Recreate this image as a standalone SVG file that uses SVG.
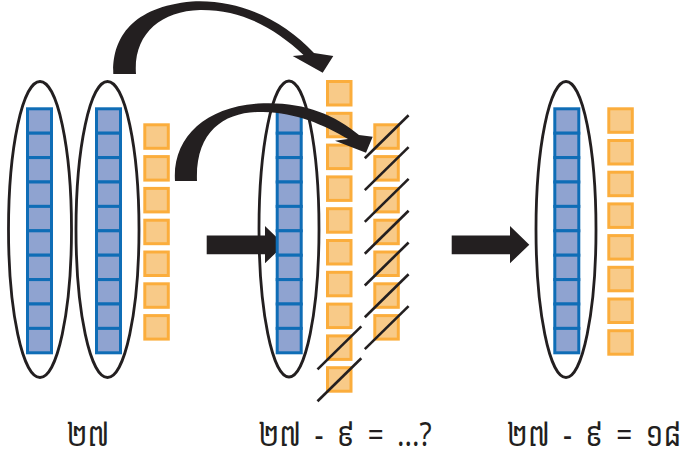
<svg xmlns="http://www.w3.org/2000/svg" width="685" height="450" viewBox="0 0 685 450">
<style>
.bg{fill:#ffffff}
.ell{fill:none;stroke:#231f20;stroke-width:2.8}
.blue{fill:#8fa3d0;stroke:#0f6db6;stroke-width:3}
.org{fill:#f8ca88;stroke:#fbad3c;stroke-width:3}
.slash{stroke:#231f20;stroke-width:2.6;fill:none}
.arr{fill:#231f20;stroke:none}
.lbl{font-family:"Noto Sans Khmer","Khmer OS","Khmer OS System","Hanuman","DejaVu Sans","Liberation Sans",sans-serif;font-size:28px;fill:#231f20;text-anchor:middle;word-spacing:6px}
</style>
<defs>
<g id="tenRod">
<rect class="blue" x="1.5" y="1.5" width="24" height="24.4"/>
<rect class="blue" x="1.5" y="25.9" width="24" height="24.4"/>
<rect class="blue" x="1.5" y="50.3" width="24" height="24.4"/>
<rect class="blue" x="1.5" y="74.7" width="24" height="24.4"/>
<rect class="blue" x="1.5" y="99.1" width="24" height="24.4"/>
<rect class="blue" x="1.5" y="123.5" width="24" height="24.4"/>
<rect class="blue" x="1.5" y="147.9" width="24" height="24.4"/>
<rect class="blue" x="1.5" y="172.3" width="24" height="24.4"/>
<rect class="blue" x="1.5" y="196.7" width="24" height="24.4"/>
<rect class="blue" x="1.5" y="221.1" width="24" height="24.4"/>
</g>
<rect id="one" class="org" x="1.5" y="1.5" width="23.5" height="23.5"/>
<path id="slashOne" class="slash" d="M-8.5,35 L35.3,-8"/>
<polygon id="bigArrow" class="arr" points="0,9.5 58.3,9.5 58.3,0 77.6,18.7 58.3,37.3 58.3,28.3 0,28.3"/>
</defs>
<rect class="bg" x="0" y="0" width="685" height="450"/>

<g id="group-27">
<ellipse class="ell" cx="40" cy="229.5" rx="31.5" ry="148"/>
<ellipse class="ell" cx="107.5" cy="229.5" rx="31.5" ry="148"/>
<use href="#tenRod" x="26" y="107.3"/>
<use href="#tenRod" x="95" y="107.3"/>
<use href="#one" x="143.3" y="123.3"/>
<use href="#one" x="143.3" y="155.1"/>
<use href="#one" x="143.3" y="186.9"/>
<use href="#one" x="143.3" y="218.7"/>
<use href="#one" x="143.3" y="250.5"/>
<use href="#one" x="143.3" y="282.3"/>
<use href="#one" x="143.3" y="314.1"/>
</g>

<g id="group-regroup">
<ellipse class="ell" cx="289" cy="229" rx="30" ry="148"/>
<use href="#bigArrow" x="206.7" y="226"/>
<use href="#tenRod" x="275.7" y="107.3"/>
<use href="#one" x="326" y="80"/>
<use href="#one" x="326" y="111.8"/>
<use href="#one" x="326" y="143.6"/>
<use href="#one" x="326" y="175.4"/>
<use href="#one" x="326" y="207.2"/>
<use href="#one" x="326" y="239"/>
<use href="#one" x="326" y="270.8"/>
<use href="#one" x="326" y="302.6"/>
<use href="#one" x="326" y="334.4"/>
<use href="#one" x="326" y="366.2"/>
<use href="#one" x="373.3" y="123.3"/>
<use href="#one" x="373.3" y="155.1"/>
<use href="#one" x="373.3" y="186.9"/>
<use href="#one" x="373.3" y="218.7"/>
<use href="#one" x="373.3" y="250.5"/>
<use href="#one" x="373.3" y="282.3"/>
<use href="#one" x="373.3" y="314.1"/>
<use href="#slashOne" x="326" y="334.4"/>
<use href="#slashOne" x="326" y="366.2"/>
<use href="#slashOne" x="373.3" y="123.3"/>
<use href="#slashOne" x="373.3" y="155.1"/>
<use href="#slashOne" x="373.3" y="186.9"/>
<use href="#slashOne" x="373.3" y="218.7"/>
<use href="#slashOne" x="373.3" y="250.5"/>
<use href="#slashOne" x="373.3" y="282.3"/>
<use href="#slashOne" x="373.3" y="314.1"/>
</g>

<g id="group-18">
<use href="#bigArrow" x="451.7" y="226"/>
<ellipse class="ell" cx="566" cy="229.5" rx="30" ry="148"/>
<use href="#tenRod" x="553.3" y="107.3"/>
<use href="#one" x="607.3" y="107.3"/>
<use href="#one" x="607.3" y="139"/>
<use href="#one" x="607.3" y="170.7"/>
<use href="#one" x="607.3" y="202.4"/>
<use href="#one" x="607.3" y="234.1"/>
<use href="#one" x="607.3" y="265.8"/>
<use href="#one" x="607.3" y="297.5"/>
<use href="#one" x="607.3" y="329.2"/>
</g>

<g id="connectors">
<path class="arr" d="M113.3,74 C112,40 130,7 192,1.5 C240,-1 283,20 314,53 L333.3,56 L322.7,72.7 L292.7,56 L303.5,55 C275,28 242,9.5 200,10 C160,11 133,35 136,74 Z"/>
<path class="arr" d="M175,181 C172,138 205,107 258,103.5 C300,101 333,113 359,135 L372.7,136.7 L366,152.7 L335,140.7 L348,139 C322,124 297,113 263,112 C226,111 195,130 197,181 Z"/>
</g>

<g id="labels">
<text class="lbl" transform="translate(88,446) scale(1,1.2)">២៧</text>
<text class="lbl" transform="translate(345,446) scale(1,1.2)">២៧ - ៩ = ...?</text>
<text class="lbl" transform="translate(594,446) scale(1,1.2)">២៧ - ៩ = ១៨</text>
</g>
</svg>
